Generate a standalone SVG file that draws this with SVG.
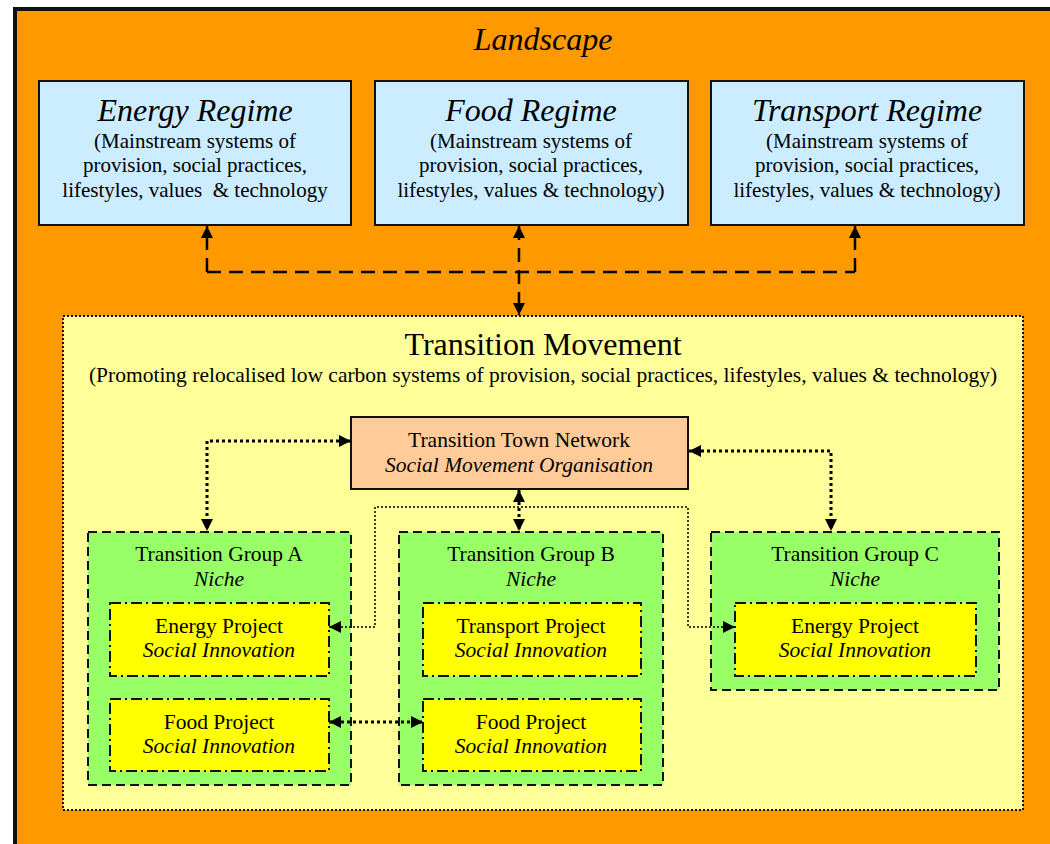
<svg xmlns="http://www.w3.org/2000/svg" width="1050" height="844" viewBox="0 0 1050 844">
<style>
text{font-family:"Liberation Serif","Times New Roman",serif;fill:#000;text-anchor:middle}
.it{font-style:italic}
.h{font-size:32px}
.s{font-size:21px}
.t{font-size:21.5px}
.regime{fill:#CCECFF;stroke:#111;stroke-width:2}
.group{fill:#99FF66;stroke:#111;stroke-width:2;stroke-dasharray:9 5}
.proj{fill:#FFFF00;stroke:#111;stroke-width:2;stroke-dasharray:11 4 2 4}
.c{fill:none;stroke:#000}
.dash{stroke-width:2.5;stroke-dasharray:14 8}
.dot{stroke-width:3;stroke-dasharray:3 3}
.thin{stroke-width:1.5;stroke-dasharray:2 2}
</style>
<defs>
<marker id="ah" viewBox="0 0 12 12" refX="12" refY="6" markerWidth="12" markerHeight="12" markerUnits="userSpaceOnUse" orient="auto-start-reverse">
<path d="M0,0 L12,6 L0,12 z" fill="#000"/>
</marker>
</defs>
<g id="landscape">
<rect x="15" y="9" width="1060" height="860" fill="#FF9900" stroke="#111" stroke-width="4"/>
<text class="h it" x="543" y="50">Landscape</text>
</g>
<g id="energy-regime">
<rect class="regime" x="39" y="81" width="312" height="144"/>
<text class="h it" x="195" y="121">Energy Regime</text>
<text class="s" x="195" y="148">(Mainstream systems of</text>
<text class="s" x="195" y="172">provision, social practices,</text>
<text class="s" x="195" y="197" xml:space="preserve">lifestyles, values  &amp; technology</text>
</g>
<g id="food-regime">
<rect class="regime" x="375" y="81" width="313" height="144"/>
<text class="h it" x="531" y="121">Food Regime</text>
<text class="s" x="531" y="148">(Mainstream systems of</text>
<text class="s" x="531" y="172">provision, social practices,</text>
<text class="s" x="531" y="197">lifestyles, values &amp; technology)</text>
</g>
<g id="transport-regime">
<rect class="regime" x="711" y="81" width="313" height="144"/>
<text class="h it" x="867" y="121">Transport Regime</text>
<text class="s" x="867" y="148">(Mainstream systems of</text>
<text class="s" x="867" y="172">provision, social practices,</text>
<text class="s" x="867" y="197">lifestyles, values &amp; technology)</text>
</g>
<g id="transition-movement">
<rect x="63" y="316" width="960" height="494" fill="#FFFF99" stroke="#111" stroke-width="2" stroke-dasharray="2 2"/>
<text x="543" y="355" style="font-size:32px">Transition Movement</text>
<text class="t" x="543" y="382">(Promoting relocalised low carbon systems of provision, social practices, lifestyles, values &amp; technology)</text>
</g>
<g id="ttn">
<rect x="351" y="417" width="337" height="72" fill="#FFCC99" stroke="#111" stroke-width="2"/>
<text class="t" x="519" y="447">Transition Town Network</text>
<text class="t it" x="519" y="472">Social Movement Organisation</text>
</g>
<g id="group-a">
<rect class="group" x="88" y="532" width="263" height="253"/>
<text class="t" x="219" y="561">Transition Group A</text>
<text class="t it" x="219" y="586">Niche</text>
</g>
<g id="group-b">
<rect class="group" x="399" y="532" width="264" height="253"/>
<text class="t" x="531" y="561">Transition Group B</text>
<text class="t it" x="531" y="586">Niche</text>
</g>
<g id="group-c">
<rect class="group" x="711" y="532" width="288" height="158"/>
<text class="t" x="855" y="561">Transition Group C</text>
<text class="t it" x="855" y="586">Niche</text>
</g>
<g id="energy-project-a">
<rect class="proj" x="110" y="603" width="219" height="73"/>
<text class="t" x="219" y="633">Energy Project</text>
<text class="t it" x="219" y="657">Social Innovation</text>
</g>
<g id="food-project-a">
<rect class="proj" x="110" y="699" width="219" height="72"/>
<text class="t" x="219" y="729">Food Project</text>
<text class="t it" x="219" y="753">Social Innovation</text>
</g>
<g id="transport-project-b">
<rect class="proj" x="423" y="603" width="218" height="73"/>
<text class="t" x="531" y="633">Transport Project</text>
<text class="t it" x="531" y="657">Social Innovation</text>
</g>
<g id="food-project-b">
<rect class="proj" x="423" y="699" width="218" height="72"/>
<text class="t" x="531" y="729">Food Project</text>
<text class="t it" x="531" y="753">Social Innovation</text>
</g>
<g id="energy-project-c">
<rect class="proj" x="735" y="603" width="241" height="73"/>
<text class="t" x="855" y="633">Energy Project</text>
<text class="t it" x="855" y="657">Social Innovation</text>
</g>
<g id="connectors">
<path class="c dash" d="M207,272 L855,272"/>
<path class="c dash" d="M207,272 L207,226" marker-end="url(#ah)"/>
<path class="c dash" d="M855,272 L855,226" marker-end="url(#ah)"/>
<path class="c dash" d="M519,226 L519,315" marker-start="url(#ah)" marker-end="url(#ah)"/>
<path class="c dot" d="M351,441 L207,441 L207,531" marker-start="url(#ah)" marker-end="url(#ah)"/>
<path class="c dot" d="M689,451 L831,451 L831,531" marker-start="url(#ah)" marker-end="url(#ah)"/>
<path class="c dot" d="M519,490 L519,531" marker-start="url(#ah)" marker-end="url(#ah)"/>
<path class="c thin" d="M329,627 L375,627 L375,507 L688,507 L688,627 L735,627" marker-start="url(#ah)" marker-end="url(#ah)"/>
<path class="c dot" d="M329,722 L423,722" marker-start="url(#ah)" marker-end="url(#ah)"/>
</g>
</svg>
